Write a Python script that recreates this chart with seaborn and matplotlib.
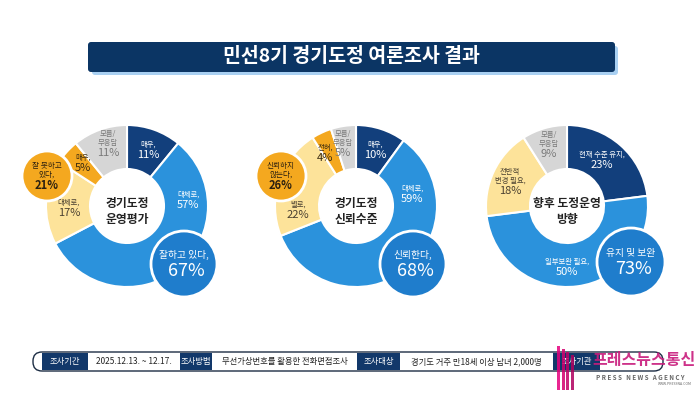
import matplotlib
matplotlib.use("Agg")
import matplotlib.pyplot as plt
import seaborn as sns
from matplotlib.patches import Circle, FancyBboxPatch, Rectangle

sns.set_theme(style="white")
plt.rcParams['font.family'] = ['Noto Sans CJK KR', 'DejaVu Sans']

# 1. DATA
title = "민선8기 경기도정 여론조사 결과"

chart1_names = ["매우,", "대체로,", "대체로,", "매우,", "모름/\n무응답"]
chart1_values = [11, 57, 17, 5, 11]
chart1_center = "경기도정\n운영평가"
chart1_good = ("잘하고 있다,", 67)
chart1_bad = ("잘 못하고\n있다,", 21)

chart2_names = ["매우,", "대체로,", "별로,", "전혀,", "모름/\n무응답"]
chart2_values = [10, 59, 22, 4, 5]
chart2_center = "경기도정\n신뢰수준"
chart2_good = ("신뢰한다,", 68)
chart2_bad = ("신뢰하지\n않는다,", 26)

chart3_names = ["현재 수준 유지,", "일부보완 필요,", "전반적\n변경 필요,", "모름/\n무응답"]
chart3_values = [23, 50, 18, 9]
chart3_center = "향후 도정운영\n방향"
chart3_good = ("유지 및 보완", 73)

info_keys = ["조사기간", "조사방법", "조사대상", "조사기관"]
info_vals = ["2025.12.13. ~ 12.17.", "무선가상번호를 활용한 전화면접조사",
             "경기도 거주 만18세 이상 남녀 2,000명", ""]

# 2. STYLE
NAVY = "#123f7c"
BLUE = "#2b92dc"
BUBBLE = "#1f7dcc"
YELLOW = "#fde39a"
ORANGE = "#f4a81f"
GRAY = "#d6d6d6"
DARK = "#0b3564"

colors1 = [NAVY, BLUE, YELLOW, ORANGE, GRAY]
colors2 = [NAVY, BLUE, YELLOW, ORANGE, GRAY]
colors3 = [NAVY, BLUE, YELLOW, GRAY]
text_col = {NAVY: "white", BLUE: "white", YELLOW: "#4a4030", ORANGE: "#3a2a10", GRAY: "#7a7a7a"}

W, H = 699, 393
R_OUT, R_W = 81, 44

fig = plt.figure(figsize=(W / 100, H / 100), dpi=100)
ax = fig.add_axes([0, 0, 1, 1])


def donut(cx, cy, values, names, cols, label_pos, center_txt):
    # y axis is inverted later: startangle -90 + counterclock -> clockwise from top
    ax.pie(values, colors=cols, center=(cx, cy), radius=R_OUT, startangle=-90,
           counterclock=True, frame=True,
           wedgeprops=dict(width=R_W, edgecolor="white", linewidth=1.5))
    for name, val, col, (dx, dy) in zip(names, values, cols, label_pos):
        tc = text_col[col]
        ax.text(cx + dx, cy + dy - 5, name, ha="center", va="bottom", fontsize=5.3,
                color=tc, linespacing=1.1)
        ax.text(cx + dx, cy + dy - 4, f"{val}%", ha="center", va="top", fontsize=8,
                color=tc)
    ax.text(cx, cy + 5, center_txt, ha="center", va="center", fontsize=8.5,
            fontweight="bold", color="#222222", linespacing=1.3)


def bubble(x, y, r, name, val, fc, tc, big):
    ax.add_patch(Circle((x, y), r, facecolor=fc, edgecolor="white", linewidth=2, zorder=5))
    if big:
        ax.text(x, y - 4, name, ha="center", va="bottom", fontsize=7, color=tc, zorder=6)
        ax.text(x + 2, y - 2, f"{val}%", ha="center", va="top", fontsize=13, color=tc, zorder=6)
    else:
        ax.text(x, y + 3, name, ha="center", va="bottom", fontsize=5.5, color=tc,
                zorder=6, linespacing=1.1)
        ax.text(x, y + 3, f"{val}%", ha="center", va="top", fontsize=8,
                fontweight="bold", color=tc, zorder=6)


# title bar
ax.add_patch(FancyBboxPatch((92, 46), 526, 29, boxstyle="round,pad=0,rounding_size=3",
                            facecolor="#a9d0f2", edgecolor="none"))
ax.add_patch(FancyBboxPatch((88, 42), 527, 30, boxstyle="round,pad=0,rounding_size=3",
                            facecolor=DARK, edgecolor="none"))
ax.text(351, 57, title, ha="center", va="center", fontsize=14, fontweight="bold",
        color="white")

# donuts
donut(127, 206, chart1_values, chart1_names, colors1,
      [(21, -52), (61, -2), (-58, 6), (-44, -39), (-19, -54)], chart1_center)
bubble(47, 176, 25, chart1_bad[0], chart1_bad[1], ORANGE, "#2b2010", False)
bubble(184, 264, 33, chart1_good[0], chart1_good[1], BUBBLE, "white", True)

donut(356, 206, chart2_values, chart2_names, colors2,
      [(19, -52), (56, -8), (-58, 8), (-31, -49), (-13, -54)], chart2_center)
bubble(281, 176, 25, chart2_bad[0], chart2_bad[1], ORANGE, "#2b2010", False)
bubble(413, 264, 33, chart2_good[0], chart2_good[1], BUBBLE, "white", True)

donut(567, 206, chart3_values, chart3_names, colors3,
      [(35, -42), (0, 65), (-57, -16), (-18, -53)], chart3_center)
bubble(631, 262, 34, chart3_good[0], chart3_good[1], BUBBLE, "white", True)

# bottom info bar
ax.add_patch(FancyBboxPatch((33, 352), 630, 19, boxstyle="round,pad=0,rounding_size=9",
                            facecolor="white", edgecolor="#1d2d44", linewidth=1))
key_x = [42, 180, 357, 553]
key_w = [46, 32, 43, 47]
val_w = [92, 145, 153, 60]
for k, v, kx, kw, vw in zip(info_keys, info_vals, key_x, key_w, val_w):
    ax.add_patch(Rectangle((kx, 353), kw, 17, facecolor="#12386a", edgecolor="none"))
    ax.text(kx + kw / 2, 361.5, k, ha="center", va="center", fontsize=6, color="white")
    ax.text(kx + kw + vw / 2, 361.5, v, ha="center", va="center", fontsize=6,
            color="#222222")

# watermark
for i, c in enumerate(["#e6007e", "#d4006f", "#c40068", "#b0005e"]):
    ax.add_patch(Rectangle((557 + i * 4.5, 346 + i * 3), 3, 44 - i * 3, facecolor=c,
                           edgecolor="none", alpha=0.85, zorder=7))
ax.text(644, 360, "프레스뉴스통신", ha="center", va="center", fontsize=11.5,
        fontweight="bold", color="#c81c7c", alpha=0.9, zorder=8)
ax.text(640, 378, "P R E S S   N E W S   A G E N C Y", ha="center", va="center",
        fontsize=4.5, fontweight="bold", color="#666666", zorder=8)
ax.text(692, 384, "WWW.PRESSNA.COM", ha="right", va="center", fontsize=2.5,
        color="#666666", zorder=8)

ax.set_xlim(0, W)
ax.set_ylim(H, 0)
ax.set_aspect("equal")
ax.axis("off")

fig.savefig("out.png", dpi=100)
